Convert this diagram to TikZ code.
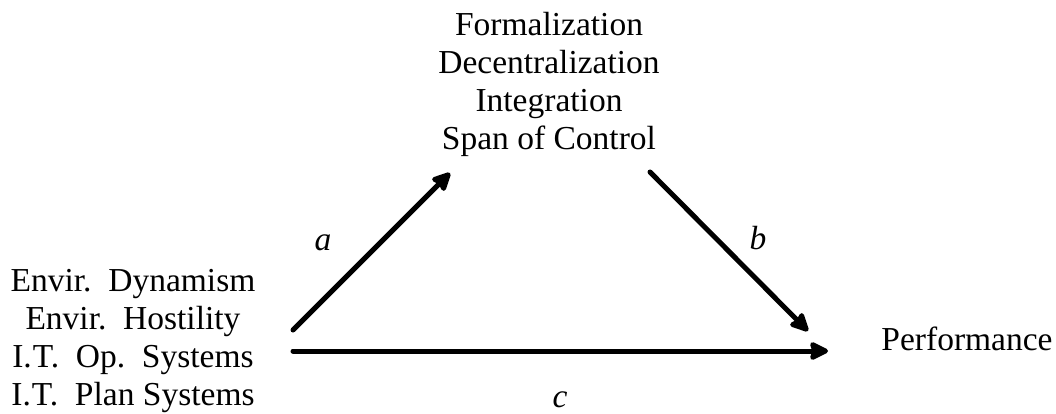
\documentclass[tikz,border=0pt]{standalone}
\usepackage{fontspec}
\setmainfont{Liberation Serif}
\usetikzlibrary{arrows.meta}
\begin{document}
\begin{tikzpicture}[x=1pt,y=-1pt,
  vars/.style={align=center,inner sep=0pt,font=\fontsize{33.5}{38}\selectfont},
  pathlabel/.style={inner sep=0pt,anchor=base,font=\fontsize{33.5}{38}\selectfont\itshape},
  link/.style={line width=5pt,line cap=round,
    -{Stealth[length=22pt,width=21pt,inset=3pt,round]}}]
  \useasboundingbox (0,0) rectangle (1056,414);

  % variable groups
  \node[vars,anchor=north] (mediators) at (549,12.1)
    {Formalization\\Decentralization\\Integration\\Span of Control};
  \node[vars,anchor=north] (predictors) at (133,269.1)
    {Envir.\ \ Dynamism\\Envir.\ \ Hostility\\I.\kern1pt T.\ \ Op.\ \ Systems\\I.\kern1pt T.\ \ Plan Systems};
  \node[vars,anchor=base] (outcome) at (967,350) {Performance};

  % arrow end points
  \coordinate (aS) at (293,330);
  \coordinate (aE) at (450,173);
  \coordinate (bS) at (650,172);
  \coordinate (bE) at (808,331);
  \coordinate (cS) at (293,351);
  \coordinate (cE) at (828,351);

  % paths
  \draw[link] (aS) -- (aE) node[pathlabel] (la) at (323,250) {a};
  \draw[link] (bS) -- (bE) node[pathlabel] (lb) at (758,249) {b};
  \draw[link] (cS) -- (cE) node[pathlabel] (lc) at (560,407) {c};
\end{tikzpicture}
\end{document}
